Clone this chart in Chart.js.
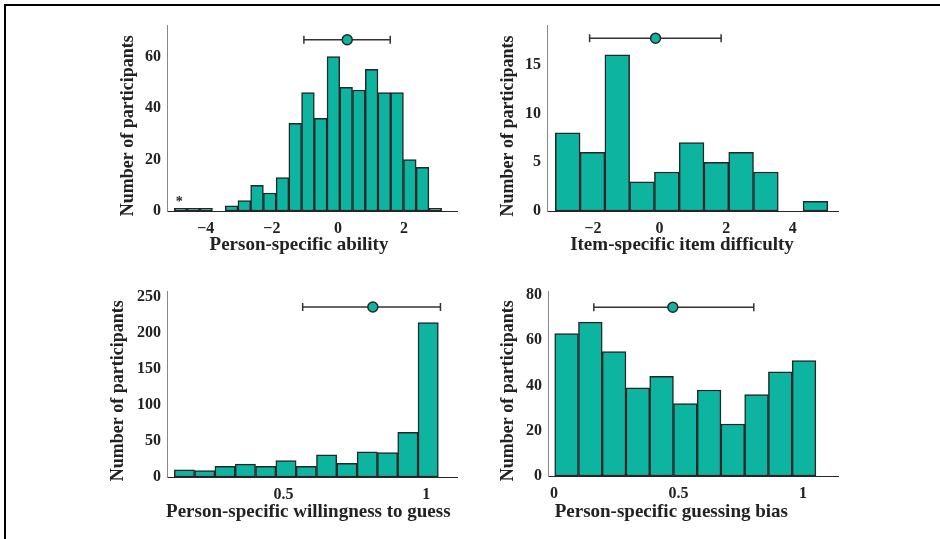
<!DOCTYPE html>
<html lang="en">
<head>
    <meta charset="UTF-8">
    <title>Parameter distributions</title>
    <script src="https://cdn.jsdelivr.net/npm/chart.js"></script>
    <style>
        body {
            margin: 0;
            background: #fff;
            width: 940px;
            height: 539px;
            overflow: hidden;
            position: relative;
        }

        .frame-top {
            position: absolute;
            left: 4px;
            top: 4px;
            width: 936px;
            height: 2px;
            background: #000;
        }

        .frame-left {
            position: absolute;
            left: 4px;
            top: 4px;
            width: 2px;
            height: 535px;
            background: #000;
        }

        .panel {
            position: absolute;
        }
    </style>
</head>
<body>
    <div class="frame-top"></div>
    <div class="frame-left"></div>
    <div class="panel" style="left:110px; top:10px; width:360px; height:250px;"><canvas id="ability"></canvas></div>
    <div class="panel" style="left:490px; top:10px; width:360px; height:250px;"><canvas id="difficulty"></canvas></div>
    <div class="panel" style="left:100px; top:276px; width:370px; height:260px;"><canvas id="willingness"></canvas></div>
    <div class="panel" style="left:490px; top:276px; width:360px; height:260px;"><canvas id="bias"></canvas></div>

    <script>
        // histogram data (bin start, bin width, counts)
        const abilityStart = -4.95;
        const abilityWidth = 0.385;
        const abilityCounts = [1, 1, 1, 0, 2, 4, 10, 7, 13, 34, 46, 36, 60, 48, 47, 55, 46, 46, 20, 17, 1, 0];
        const abilityMean = [0.28, -1.03, 1.58, 66.5];   // mean, low, high, height
        const abilityXTicks = [-4, -2, 0, 2];
        const abilityYTicks = [0, 20, 40, 60];

        const difficultyStart = -3.13;
        const difficultyWidth = 0.744;
        const difficultyCounts = [8, 6, 16, 3, 4, 7, 5, 6, 4, 0, 1];
        const difficultyMean = [-0.12, -2.1, 1.85, 17.7];
        const difficultyXTicks = [-2, 0, 2, 4];
        const difficultyYTicks = [0, 5, 10, 15];

        const willingnessStart = 0.117;
        const willingnessWidth = 0.0712;
        const willingnessCounts = [10, 9, 15, 18, 15, 23, 15, 31, 19, 35, 34, 62, 215];
        const willingnessMean = [0.813, 0.567, 1.05, 236.5];
        const willingnessXTicks = [0.5, 1];
        const willingnessYTicks = [0, 50, 100, 150, 200, 250];

        const biasStart = 0.003;
        const biasWidth = 0.0953;
        const biasCounts = [63, 68, 55, 39, 44, 32, 38, 23, 36, 46, 51];
        const biasMean = [0.477, 0.16, 0.802, 74.6];
        const biasXTicks = [0, 0.5, 1];
        const biasYTicks = [0, 20, 40, 60, 80];

        const teal = '#0db4a0';
        const dark = '#262626';

        Chart.defaults.font.family = '"Liberation Serif", "Times New Roman", serif';
        Chart.defaults.font.weight = 'bold';
        Chart.defaults.color = '#222';

        // axis titles + the small asterisk note
        const panelText = {
            id: 'panelText',
            afterDraw(chart, args, opts) {
                const ctx = chart.ctx;
                ctx.save();
                ctx.fillStyle = '#222';
                ctx.textAlign = 'center';
                ctx.textBaseline = 'middle';
                if (opts.note) {
                    ctx.font = 'bold 14px "Liberation Serif"';
                    ctx.fillText(opts.note.text,
                        chart.scales.x.getPixelForValue(opts.note.x),
                        chart.scales.y.getPixelForValue(opts.note.y));
                }
                ctx.font = 'bold 19px "Liberation Serif"';
                ctx.fillText(opts.xTitle[0], opts.xTitle[1], opts.xTitle[2]);
                ctx.translate(opts.yTitle[1], opts.yTitle[2]);
                ctx.rotate(-Math.PI / 2);
                ctx.font = 'bold 18px "Liberation Serif"';
                ctx.fillText(opts.yTitle[0], 0, 0);
                ctx.restore();
            }
        };

        function fmt(v) {
            return v < 0 ? '\u2212' + Math.abs(v) : String(v);
        }

        function makePanel(id, p) {
            const bars = p.counts.map((c, i) => ({ x: p.start + (i + 0.5) * p.width, y: c }));
            new Chart(document.getElementById(id), {
                type: 'bar',
                data: {
                    datasets: [
                        {
                            type: 'line',
                            data: [{ x: p.mean[0], y: p.mean[3] }],
                            showLine: false,
                            pointRadius: 5,
                            pointBackgroundColor: teal,
                            pointBorderColor: dark,
                            pointBorderWidth: 1.5
                        },
                        {
                            type: 'line',
                            data: [{ x: p.mean[1], y: p.mean[3] }, { x: p.mean[2], y: p.mean[3] }],
                            borderColor: '#333',
                            borderWidth: 1.5,
                            pointStyle: 'line',
                            pointRotation: 90,
                            pointRadius: 4,
                            pointBorderColor: '#333',
                            pointBorderWidth: 1.5
                        },
                        {
                            data: bars,
                            backgroundColor: teal,
                            borderColor: dark,
                            borderWidth: 1.5,
                            borderSkipped: false,
                            barPercentage: 1,
                            categoryPercentage: 1
                        }
                    ]
                },
                options: {
                    responsive: true,
                    maintainAspectRatio: false,
                    animation: false,
                    events: [],
                    layout: { padding: { top: p.pad[0], right: p.pad[1], left: 0, bottom: 0 } },
                    plugins: {
                        legend: { display: false },
                        tooltip: { enabled: false },
                        panelText: { xTitle: p.xTitle, yTitle: p.yTitle, note: p.note }
                    },
                    scales: {
                        x: {
                            type: 'linear',
                            offset: false,
                            min: p.xRange[0],
                            max: p.xRange[1],
                            grid: { display: false, drawTicks: false },
                            border: { color: dark, width: 1 },
                            ticks: { font: { size: 16 }, padding: 8, autoSkip: false, maxRotation: 0, callback: fmt },
                            afterBuildTicks: s => { s.ticks = p.xTicks.map(v => ({ value: v })); },
                            afterFit: s => { s.height = p.axisSize[1]; }
                        },
                        y: {
                            min: 0,
                            max: p.yMax,
                            grid: { display: false, drawTicks: false },
                            border: { color: '#888', width: 1 },
                            ticks: { font: { size: 16 }, padding: 6, autoSkip: false, callback: fmt },
                            afterBuildTicks: s => { s.ticks = p.yTicks.map(v => ({ value: v })); },
                            afterFit: s => { s.width = p.axisSize[0]; }
                        }
                    }
                },
                plugins: [panelText]
            });
        }

        makePanel('ability', {
            start: abilityStart, width: abilityWidth, counts: abilityCounts, mean: abilityMean,
            xTicks: abilityXTicks, yTicks: abilityYTicks, xRange: [-5.17, 3.6], yMax: 72,
            pad: [12, 13], axisSize: [57, 49],
            xTitle: ['Person-specific ability', 189, 235.5],
            yTitle: ['Number of participants', 18.3, 115.8],
            note: { text: '*', x: -4.8, y: 3.4 }
        });

        makePanel('difficulty', {
            start: difficultyStart, width: difficultyWidth, counts: difficultyCounts, mean: difficultyMean,
            xTicks: difficultyXTicks, yTicks: difficultyYTicks, xRange: [-3.38, 5.36], yMax: 19,
            pad: [12, 12], axisSize: [57, 49],
            xTitle: ['Item-specific item difficulty', 192, 235],
            yTitle: ['Number of participants', 18.3, 116]
        });

        makePanel('willingness', {
            start: willingnessStart, width: willingnessWidth, counts: willingnessCounts, mean: willingnessMean,
            xTicks: willingnessXTicks, yTicks: willingnessYTicks, xRange: [0.0915, 1.108], yMax: 258,
            pad: [10, 13], axisSize: [67, 59],
            xTitle: ['Person-specific willingness to guess', 208.3, 236.5],
            yTitle: ['Number of participants', 18.3, 114.8]
        });

        makePanel('bias', {
            start: biasStart, width: biasWidth, counts: biasCounts, mean: biasMean,
            xTicks: biasXTicks, yTicks: biasYTicks, xRange: [-0.024, 1.14], yMax: 81.5,
            pad: [10, 12], axisSize: [58, 60],
            xTitle: ['Person-specific guessing bias', 181.3, 236.5],
            yTitle: ['Number of participants', 18.8, 114.8]
        });
    </script>
</body>
</html>
